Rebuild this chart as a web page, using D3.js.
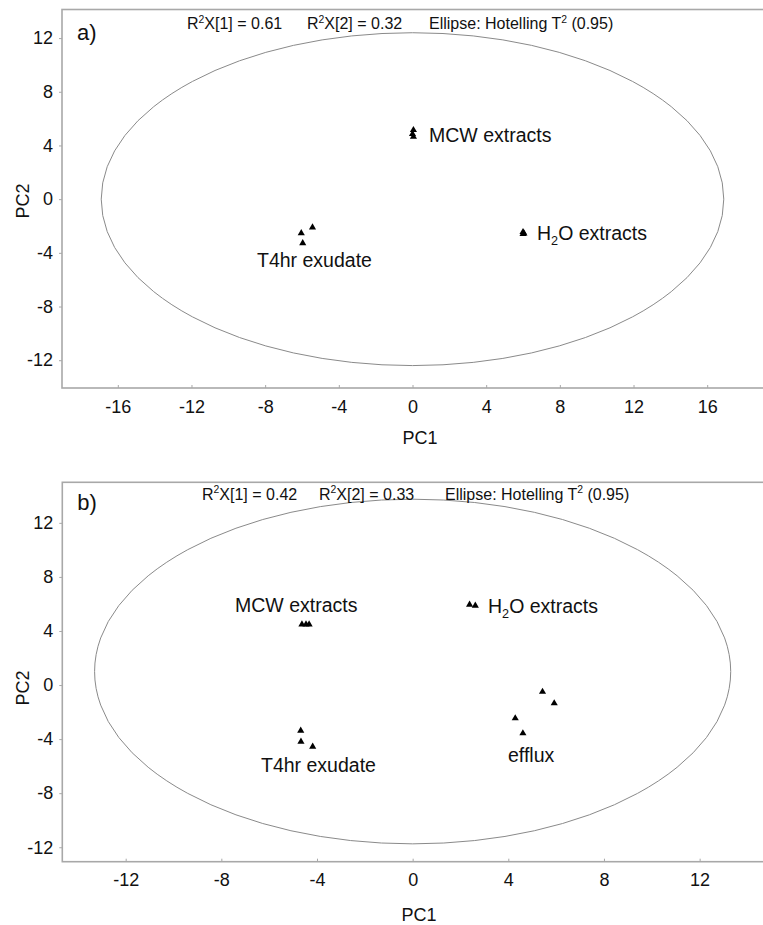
<!DOCTYPE html>
<html>
<head>
<meta charset="utf-8">
<script src="https://cdn.jsdelivr.net/npm/d3@7"></script>
<style>
  html, body { margin: 0; padding: 0; background: #fff; }
  svg { display: block; font-family: "Liberation Sans", Arial, sans-serif; }
</style>
</head>
<body>
<svg id="chart" width="763" height="925"></svg>
<script>
// ---------- Data ----------
// Panel a
const aTitle = ["R|2|X[1] = 0.61", "R|2|X[2] = 0.32", "Ellipse: Hotelling T|2| (0.95)"];
const aXTicks = [-16, -12, -8, -4, 0, 4, 8, 12, 16];
const aYTicks = [-12, -8, -4, 0, 4, 8, 12];
const aMCW = [[0.05, 5.15], [0.0, 4.85], [0.05, 4.65]];
const aH2O = [[6.0, -2.45], [6.05, -2.55], [6.0, -2.6]];
const aT4hr = [[-6.04, -2.53], [-5.43, -2.11], [-5.96, -3.28]];
const aEllipse = [0, 0, 16.9, 12.4];   // cx, cy, rx, ry (data units)

// Panel b
const bTitle = ["R|2|X[1] = 0.42", "R|2|X[2] = 0.33", "Ellipse: Hotelling T|2| (0.95)"];
const bXTicks = [-12, -8, -4, 0, 4, 8, 12];
const bYTicks = [-12, -8, -4, 0, 4, 8, 12];
const bMCW = [[-4.63, 4.49], [-4.46, 4.49], [-4.33, 4.49]];
const bH2O = [[2.38, 5.95], [2.62, 5.88]];
const bT4hr = [[-4.68, -3.38], [-4.67, -4.19], [-4.18, -4.56]];
const bEfflux = [[5.43, -0.5], [5.92, -1.35], [4.29, -2.46], [4.61, -3.57]];
const bEllipse = [0, 1.0, 13.3, 12.75];

const svg = d3.select("#chart");
const frameColor = "#a8a8a8";
const fmt = d => String(d);   // plain hyphen-minus, as in the reference

function richText(g, str, x, y, size, anchor, mode) {
  const t = g.append("text").attr("x", x).attr("y", y)
    .attr("font-size", size).attr("fill", "#111").attr("text-anchor", anchor || "start");
  const parts = str.split("|");
  parts.forEach((p, i) => {
    if (p === "") return;
    const ts = t.append("tspan").text(p);
    if (i % 2 === 1) {
      ts.attr("font-size", size * 0.65).attr("dy", mode === "sub" ? size * 0.28 : -size * 0.38);
    } else if (i > 0) {
      ts.attr("dy", mode === "sub" ? -size * 0.28 : size * 0.38);
    }
  });
  return t;
}

function panel(cfg) {
  const g = svg.append("g");
  const x = d3.scaleLinear().domain(cfg.xDomain).range([cfg.left, cfg.right]);
  const y = d3.scaleLinear().domain(cfg.yDomain).range([cfg.bottom, cfg.top]);

  // frame
  g.append("rect").attr("x", cfg.left).attr("y", cfg.top)
    .attr("width", cfg.right - cfg.left + 2).attr("height", cfg.bottom - cfg.top)
    .attr("fill", "none").attr("stroke", frameColor).attr("stroke-width", 1.6);

  // axes
  const xAxis = d3.axisBottom(x).tickValues(cfg.xTicks).tickSize(-3).tickPadding(12).tickFormat(fmt);
  const gx = g.append("g").attr("transform", `translate(0,${cfg.bottom})`).call(xAxis);
  gx.select(".domain").remove();
  gx.selectAll(".tick line").attr("stroke", frameColor);
  gx.selectAll(".tick text").attr("font-size", 18).attr("fill", "#111")
    .attr("font-family", "Liberation Sans, Arial, sans-serif");

  const yAxis = d3.axisLeft(y).tickValues(cfg.yTicks).tickSize(3).tickPadding(6).tickFormat(fmt);
  const gy = g.append("g").attr("transform", `translate(${cfg.left},0)`).call(yAxis);
  gy.select(".domain").remove();
  gy.selectAll(".tick line").attr("stroke", frameColor);
  gy.selectAll(".tick text").attr("font-size", 18).attr("fill", "#111")
    .attr("font-family", "Liberation Sans, Arial, sans-serif");

  // axis titles
  g.append("text").attr("x", cfg.pc1x).attr("y", cfg.pc1y).attr("text-anchor", "middle")
    .attr("font-size", 18).attr("fill", "#111").text("PC1");
  g.append("text").attr("transform", `translate(${cfg.pc2x},${cfg.pc2y}) rotate(-90)`)
    .attr("text-anchor", "middle").attr("font-size", 18).attr("fill", "#111").text("PC2");

  // ellipse
  const [ecx, ecy, erx, ery] = cfg.ellipse;
  g.append("ellipse")
    .attr("cx", x(ecx)).attr("cy", y(ecy))
    .attr("rx", x(ecx + erx) - x(ecx)).attr("ry", y(ecy) - y(ecy + ery))
    .attr("fill", "none").attr("stroke", "#8a8a8a").attr("stroke-width", 1);

  // panel label and title
  g.append("text").attr("x", cfg.left + 15).attr("y", cfg.labelY)
    .attr("font-size", 22).attr("fill", "#111").text(cfg.label);
  cfg.title.forEach((s, i) => richText(g, s, cfg.titleX[i], cfg.titleY, 16, "start", "sup"));

  // points
  const tri = d3.symbol().type(d3.symbolTriangle).size(22);
  cfg.groups.forEach(grp => {
    g.selectAll(null).data(grp.pts).enter().append("path")
      .attr("d", tri)
      .attr("transform", d => `translate(${x(d[0])},${y(d[1])})`)
      .attr("fill", "#000");
    richText(g, grp.text, grp.tx, grp.ty, 19.5, "start", "sub");
  });
}

panel({
  left: 62, right: 763, top: 9.5, bottom: 388,
  xDomain: [-19.03, 19.03], yDomain: [-14.07, 14.13],
  xTicks: aXTicks, yTicks: aYTicks,
  ellipse: aEllipse,
  label: "a)", labelY: 40,
  title: aTitle, titleX: [187, 307, 429], titleY: 29,
  pc1x: 420, pc1y: 444, pc2x: 29, pc2y: 201,
  groups: [
    { pts: aMCW, text: "MCW extracts", tx: 429, ty: 142 },
    { pts: aH2O, text: "H|2|O extracts", tx: 537, ty: 240 },
    { pts: aT4hr, text: "T4hr exudate", tx: 257, ty: 267 }
  ]
});

panel({
  left: 62.3, right: 763, top: 482.3, bottom: 861.7,
  xDomain: [-14.65, 14.65], yDomain: [-13.07, 15.0],
  xTicks: bXTicks, yTicks: bYTicks,
  ellipse: bEllipse,
  label: "b)", labelY: 510,
  title: bTitle, titleX: [202, 319, 445], titleY: 499.5,
  pc1x: 419, pc1y: 921, pc2x: 29, pc2y: 688,
  groups: [
    { pts: bMCW, text: "MCW extracts", tx: 235, ty: 612 },
    { pts: bH2O, text: "H|2|O extracts", tx: 488, ty: 613 },
    { pts: bT4hr, text: "T4hr exudate", tx: 261, ty: 772 },
    { pts: bEfflux, text: "efflux", tx: 508, ty: 762 }
  ]
});
</script>
</body>
</html>
